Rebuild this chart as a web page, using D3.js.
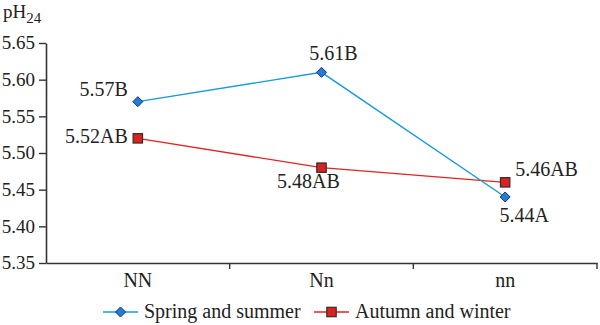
<!DOCTYPE html>
<html>
<head>
<meta charset="utf-8">
<script src="https://cdn.jsdelivr.net/npm/d3@7"></script>
<style>
  body { margin: 0; background: #fff; }
  svg { display: block; }
  svg text { font-family: "Liberation Serif", "DejaVu Serif", serif !important; fill: #222; }
</style>
</head>
<body>
<svg id="chart" width="600" height="325" font-family="Liberation Serif, serif"></svg>
<script>
const categories = ["NN", "Nn", "nn"];
const seriesNames = ["Spring and summer", "Autumn and winter"];
const springSummer = [5.57, 5.61, 5.44];
const autumnWinter = [5.52, 5.48, 5.46];
const springLabels = ["5.57B", "5.61B", "5.44A"];
const autumnLabels = ["5.52AB", "5.48AB", "5.46AB"];
const springPlacement = ["left", "above", "below"];
const autumnPlacement = ["left", "below", "right"];
const yTicks = [5.35, 5.40, 5.45, 5.50, 5.55, 5.60, 5.65];

const FONT = "'Liberation Serif', 'DejaVu Serif', serif";
const svg = d3.select("#chart");
const margin = { left: 46, right: 597, top: 43, bottom: 263 };

const x = d3.scaleBand().domain(categories).range([margin.left, margin.right]);
const y = d3.scaleLinear().domain([5.35, 5.65]).range([margin.bottom, margin.top]);

// Y axis
const yAxis = svg.append("g")
  .attr("transform", `translate(${margin.left},0)`)
  .call(d3.axisLeft(y).tickValues(yTicks).tickFormat(d3.format(".2f")).tickSize(7).tickSizeOuter(0));
yAxis.attr("font-family", FONT);
yAxis.select(".domain").attr("stroke", "#333").attr("stroke-width", 1.6);
yAxis.selectAll(".tick line").attr("stroke", "#333").attr("stroke-width", 1.4);
yAxis.selectAll(".tick text").attr("font-size", 19).attr("x", -11).attr("dy", "0.3em")
  .attr("font-family", FONT).attr("fill", "#222");

// X axis
const xAxis = svg.append("g")
  .attr("transform", `translate(0,${margin.bottom})`)
  .call(d3.axisBottom(x).tickSize(0).tickSizeOuter(0));
xAxis.attr("font-family", FONT);
xAxis.select(".domain").attr("stroke", "#333").attr("stroke-width", 1.6);
xAxis.selectAll(".tick text").attr("font-size", 20).attr("y", 10).attr("dy", "0.71em")
  .attr("font-family", FONT).attr("fill", "#222");
// boundary ticks between categories
const bounds = categories.slice(1).map(c => x(c)).concat([x.range()[1]]);
svg.append("g").selectAll("line").data(bounds).join("line")
  .attr("x1", d => d).attr("x2", d => d)
  .attr("y1", margin.bottom).attr("y2", margin.bottom + 6)
  .attr("stroke", "#333").attr("stroke-width", 1.4);

// Y title pH24
const title = svg.append("text").attr("x", 3).attr("y", 18).attr("font-size", 19).attr("font-family", FONT);
title.append("tspan").text("pH");
title.append("tspan").attr("font-size", 15).attr("dy", 5).text("24");

const cx = c => x(c) + x.bandwidth() / 2;

const series = [
  { name: seriesNames[0], values: springSummer, labels: springLabels, placement: springPlacement,
    line: "#1a9ad8", fill: "#1f7fd4", stroke: "#1a2d7a", shape: "diamond" },
  { name: seriesNames[1], values: autumnWinter, labels: autumnLabels, placement: autumnPlacement,
    line: "#e02424", fill: "#d92222", stroke: "#3a2a2a", shape: "square" }
];

const line = d3.line().x((d, i) => cx(categories[i])).y(d => y(d));

function drawMarker(g, shape, px, py, s) {
  if (shape === "diamond") {
    const r = 5;
    g.append("path")
      .attr("d", `M${px},${py - r}L${px + r},${py}L${px},${py + r}L${px - r},${py}Z`)
      .attr("fill", s.fill).attr("stroke", s.stroke).attr("stroke-width", 1);
  } else {
    const h = 4.7;
    g.append("rect")
      .attr("x", px - h).attr("y", py - h).attr("width", 2 * h).attr("height", 2 * h)
      .attr("fill", s.fill).attr("stroke", s.stroke).attr("stroke-width", 1.2);
  }
}

// draw red first, blue on top
[series[1], series[0]].forEach(s => {
  svg.append("path").datum(s.values)
    .attr("d", line).attr("fill", "none")
    .attr("stroke", s.line).attr("stroke-width", 1.4);
});
[series[1], series[0]].forEach(s => {
  const g = svg.append("g");
  s.values.forEach((v, i) => drawMarker(g, s.shape, cx(categories[i]), y(v), s));
});

// data labels
series.forEach(s => {
  s.values.forEach((v, i) => {
    const px = cx(categories[i]), py = y(v);
    const t = svg.append("text").attr("font-size", 20).attr("font-family", FONT).text(s.labels[i]);
    const p = s.placement[i];
    if (p === "left") {
      t.attr("x", px - 10).attr("y", s.shape === "diamond" ? py - 6 : py + 5).attr("text-anchor", "end");
    } else if (p === "above") {
      t.attr("x", px + 12).attr("y", py - 12).attr("text-anchor", "middle");
    } else if (p === "below") {
      t.attr("x", px + (s.shape === "diamond" ? 19 : -13)).attr("y", py + (s.shape === "diamond" ? 25 : 20)).attr("text-anchor", "middle");
    } else if (p === "right") {
      t.attr("x", px + 10).attr("y", py - 6).attr("text-anchor", "start");
    }
  });
});

// legend
const legendY = 312;
const legendItems = [
  { s: series[0], x0: 103, tx: 144 },
  { s: series[1], x0: 314, tx: 355 }
];
legendItems.forEach(it => {
  const g = svg.append("g");
  g.append("line").attr("x1", it.x0).attr("x2", it.x0 + 35)
    .attr("y1", legendY).attr("y2", legendY)
    .attr("stroke", it.s.line).attr("stroke-width", 1.4);
  drawMarker(g, it.s.shape, it.x0 + 17.5, legendY, it.s);
  g.append("text").attr("x", it.tx).attr("y", legendY + 6).attr("font-size", 20).attr("font-family", FONT).text(it.s.name);
});
</script>
</body>
</html>
